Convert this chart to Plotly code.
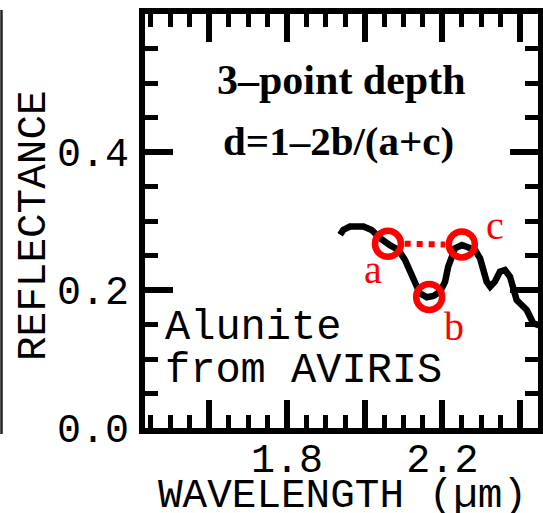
import plotly.graph_objects as go

# ---------------- data ----------------
wavelength = [1.937, 1.945, 1.962, 1.997, 2.018, 2.040, 2.065, 2.087, 2.104, 2.117,
              2.130, 2.142, 2.160, 2.177, 2.194, 2.207, 2.215, 2.224, 2.2325, 2.250,
              2.267, 2.284, 2.297, 2.305, 2.314, 2.323, 2.335, 2.348, 2.361, 2.374,
              2.3825, 2.391, 2.404, 2.417, 2.4255, 2.434, 2.447, 2.464]
reflectance = [0.280, 0.287, 0.292, 0.292, 0.287, 0.275, 0.265, 0.258, 0.2435, 0.2265,
               0.2097, 0.1952, 0.1894, 0.1913, 0.1975, 0.212, 0.2338, 0.2507, 0.2604, 0.2652,
               0.2628, 0.258, 0.2459, 0.229, 0.212, 0.2048, 0.212, 0.2265, 0.229, 0.2193,
               0.200, 0.1855, 0.1783, 0.171, 0.1613, 0.1517, 0.1493, 0.148]

point_labels = ["a", "b", "c"]
point_x = [2.060, 2.166, 2.250]
point_y = [0.267, 0.190, 0.266]

x_tickvals = [1.6, 1.8, 2.0, 2.2, 2.4]
x_ticktext = ["", "1.8", "", "2.2", ""]
y_tickvals = [0.0, 0.2, 0.4]
y_ticktext = ["0.0", "0.2", "0.4"]

title_line1 = "3\u2013point depth"
title_line2 = "d=1\u20132b/(a+c)"
sample_line1 = "Alunite"
sample_line2 = "from AVIRIS"
x_title = "WAVELENGTH (\u00b5m)"
y_title = "REFLECTANCE"

# ---------------- layout geometry ----------------
W, H = 543, 513
ML, MR, MT, MB = 145, 5, 14, 85
PW, PH = W - ML - MR, H - MT - MB


def px(x):
    return (x - ML) / PW


def py(y):
    return (H - MB - y) / PH


MONO = "Liberation Mono"
SERIF = "Liberation Serif"

fig = go.Figure()

fig.add_trace(go.Scatter(
    x=wavelength, y=reflectance, mode="lines",
    line=dict(color="black", width=6.5), showlegend=False, hoverinfo="skip"))

ring_off = 0.043
fig.add_trace(go.Scatter(
    x=[point_x[0] + ring_off, point_x[2] - ring_off],
    y=[point_y[0], point_y[2]], mode="lines",
    line=dict(color="red", width=6, dash="dot"), showlegend=False, hoverinfo="skip"))

fig.add_trace(go.Scatter(
    x=point_x, y=point_y, mode="markers",
    marker=dict(symbol="circle-open", size=26, color="red",
                line=dict(width=6.5, color="red")),
    showlegend=False, hoverinfo="skip"))

axis_common = dict(
    showline=True, linewidth=6, linecolor="black", mirror="ticks",
    ticks="inside", ticklen=28, tickwidth=6, tickcolor="black",
    showgrid=False, zeroline=False, automargin=False,
    tickfont=dict(family=MONO, size=40, color="black"),
)

fig.update_xaxes(
    range=[1.435, 2.446], tickmode="array", tickvals=x_tickvals, ticktext=x_ticktext,
    ticklabelstandoff=-10,
    minor=dict(dtick=0.05, tick0=0, ticks="inside", ticklen=13, tickwidth=5,
               tickcolor="black", showgrid=False),
    **axis_common)
fig.update_yaxes(
    range=[0, 0.6], tickmode="array", tickvals=y_tickvals, ticktext=y_ticktext,
    ticklabelstandoff=2,
    minor=dict(dtick=0.05, tick0=0, ticks="inside", ticklen=13, tickwidth=5,
               tickcolor="black", showgrid=False),
    **axis_common)

annotations = [
    dict(text=title_line1, x=px(341), y=py(80), font=dict(family=SERIF, size=42, color="black", weight="bold")),
    dict(text=title_line2, x=px(338), y=py(141), font=dict(family=SERIF, size=41, color="black", weight="bold")),
    dict(text=sample_line1, x=px(163), y=py(328), xanchor="left", font=dict(family=MONO, size=42, color="black")),
    dict(text=sample_line2, x=px(163), y=py(371), xanchor="left", font=dict(family=MONO, size=42, color="black")),
    dict(text=x_title, x=px(342), y=py(496), font=dict(family=MONO, size=41, color="black")),
    dict(text=y_title, x=px(34), y=py(225), textangle=-90, font=dict(family=MONO, size=41, color="black")),
    dict(text=point_labels[0], x=px(373), y=py(269), font=dict(family=SERIF, size=40, color="red")),
    dict(text=point_labels[1], x=px(454), y=py(326), font=dict(family=SERIF, size=40, color="red")),
    dict(text=point_labels[2], x=px(495), y=py(225), font=dict(family=SERIF, size=40, color="red")),
]
for a in annotations:
    a.setdefault("xanchor", "center")
    a.update(xref="paper", yref="paper", yanchor="middle", showarrow=False)

fig.update_layout(
    width=W, height=H, autosize=False,
    margin=dict(l=ML, r=MR, t=MT, b=MB, pad=0, autoexpand=False),
    paper_bgcolor="white", plot_bgcolor="white",
    annotations=annotations,
    shapes=[dict(type="line", xref="paper", yref="paper",
                 x0=px(1.5), x1=px(1.5), y0=py(10), y1=py(434),
                 line=dict(color="#222222", width=2.5))],
)

fig.write_html("out.html",
               config={"displayModeBar": False},
               post_script="document.body.style.margin='0';document.body.style.overflow='hidden';")
